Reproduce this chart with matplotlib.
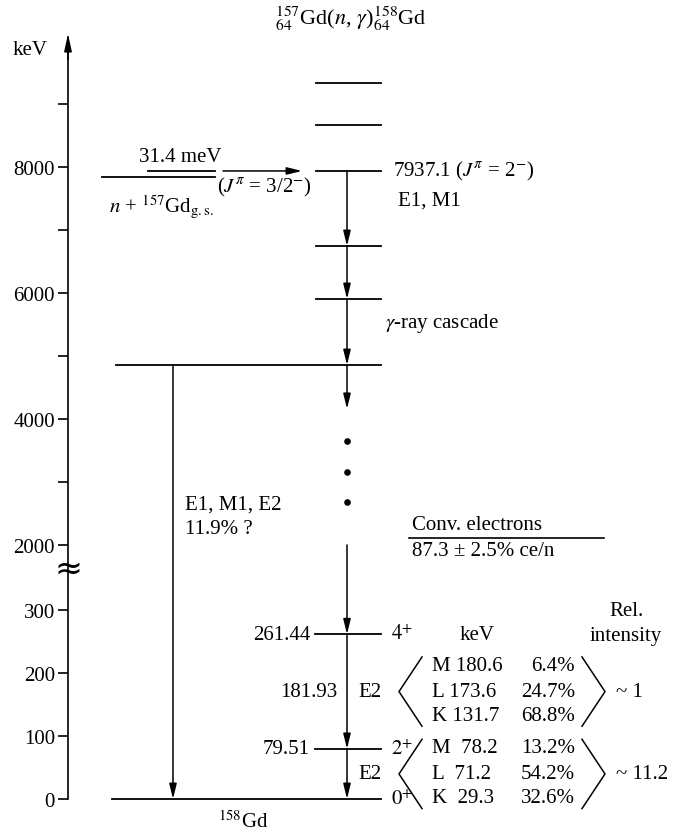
import numpy as np
import matplotlib
matplotlib.use("Agg")
import matplotlib.pyplot as plt

plt.rcParams['font.family'] = ['Liberation Serif', 'DejaVu Serif']
plt.rcParams['mathtext.fontset'] = 'stix'

# ---------------- data (keV) ----------------
upper_levels = [9333, 8667, 7937.1, 6746, 5905]          # capture region levels
break_level = 4857                                        # level with direct ground transition
low_levels = [261.44, 79.51, 0.0]
low_spins = ["$4^{+}$", "$2^{+}$", "$0^{+}$"]
capture_energy = 7937.1
neutron_level = 7840          # n + 157Gd g.s. (drawn just below capture state)
cascade_steps = [(7937.1, 6746), (6746, 5905), (5905, 4857), (4857, 4160)]
cascade_resume = 2000
cascade_dots = [3650, 3160, 2680]
transition_labels = ["181.93", ""]
major_ticks = [0, 100, 200, 300, 2000, 4000, 6000, 8000]
minor_ticks = [3000, 5000, 7000, 9000]
groups = [
    {"rows": [("M 180.6", "6.4%"), ("L 173.6", "24.7%"), ("K 131.7", "68.8%")], "rel": "~ 1"},
    {"rows": [("M  78.2", "13.2%"), ("L  71.2", "54.2%"), ("K  29.3", "32.6%")], "rel": "~ 11.2"},
]
direct_label = ["E1, M1, E2", "11.9% ?"]

# ---------------- broken energy scale ----------------
E_pts = np.array([-1000.0, 0.0, 350.0, 2000.0, 20000.0])
P_pts = np.array([-630.0, 0.0, 220.5, 254.0, 254.0 + 0.063 * 18000])

def fwd(e):
    return np.interp(np.asarray(e, float), E_pts, P_pts)

def inv(p):
    return np.interp(np.asarray(p, float), P_pts, E_pts)

W, H = 673, 837
fig = plt.figure(figsize=(W / 100, H / 100), dpi=100)
ax = fig.add_axes([0, 0, 1, 1])
ax.set_xlim(0, W)
ax.set_yscale('function', functions=(fwd, inv))
ax.set_ylim(float(inv(-37)), float(inv(800)))
ax.patch.set_visible(False)
for s in ['top', 'right', 'bottom']:
    ax.spines[s].set_visible(False)
ax.xaxis.set_visible(False)
ax.spines['left'].set_position(('data', 68))
top_E = float(inv(765))
ax.spines['left'].set_bounds(0, top_E - 50)
ax.spines['left'].set_linewidth(1.2)
ax.set_yticks(major_ticks)
ax.set_yticklabels([str(t) for t in major_ticks], fontsize=15)
ax.set_yticks(minor_ticks, minor=True)
ax.tick_params(axis='y', which='both', direction='out', length=7.5, width=1.2, pad=2)
ax.annotate('', xy=(68, top_E), xytext=(68, top_E - 400),
            arrowprops=dict(arrowstyle='-|>,head_length=1.0,head_width=0.22', lw=1.2,
                            color='k', shrinkA=0, shrinkB=0))

lay = fig.add_axes([0, 0, 1, 1], label='lay')
lay.set_xlim(0, W)
lay.set_ylim(H, 0)
lay.axis('off')

LW = 1.3
FS = 15

def arrow(x, e0, e1):
    ax.annotate('', xy=(x, e1), xytext=(x, e0),
                arrowprops=dict(arrowstyle='-|>,head_length=0.9,head_width=0.22', lw=1.1,
                                color='k', shrinkA=0, shrinkB=0))

# levels
for e in upper_levels:
    ax.plot([316, 381], [e, e], color='k', lw=LW)
ax.plot([116, 381], [break_level, break_level], color='k', lw=LW)
for e in low_levels[:-1]:
    ax.plot([315, 381], [e, e], color='k', lw=LW)
ax.plot([112, 381], [low_levels[-1]] * 2, color='k', lw=LW)

# neutron capture entry
ax.plot([102, 215], [neutron_level] * 2, color='k', lw=LW)
ax.plot([148, 215], [capture_energy] * 2, color='k', lw=LW)
ax.annotate('', xy=(302, capture_energy), xytext=(223, capture_energy),
            arrowprops=dict(arrowstyle='-|>,head_length=0.9,head_width=0.22', lw=1.1,
                            color='k', shrinkA=0, shrinkB=0))

# cascade
XC = 347
for e0, e1 in cascade_steps:
    arrow(XC, e0, e1)
ax.scatter([XC] * len(cascade_dots), cascade_dots, s=14, color='k', zorder=3)
arrow(XC, cascade_resume, low_levels[0])
arrow(XC, low_levels[0], low_levels[1])
arrow(XC, low_levels[1], low_levels[2])
# direct transition
arrow(173, break_level, low_levels[-1])

# labels attached to levels
ax.text(393, capture_energy, f"{capture_energy} ($J^{{\\pi}}$ = 2$^{{-}}$)", fontsize=FS, va='center')
for e, sp in zip(low_levels, low_spins):
    ax.text(391, e, sp, fontsize=FS, va='center')
for e in low_levels[:-1]:
    ax.text(310, e, f"{e:.2f}", fontsize=FS, va='center', ha='right')

# free text
lay.text(351, 19, r"${}^{157}_{64}$Gd($n$, $\gamma$)${}^{158}_{64}$Gd", fontsize=16, ha='center', va='center')
lay.text(13, 50, "keV", fontsize=FS, va='center')
lay.text(180, 157, "31.4 meV", fontsize=FS, ha='center', va='center')
lay.text(217, 187, r"($J^{\pi}$ = 3/2$^{-}$)", fontsize=FS, va='center')
lay.text(109, 207, r"$n$ + ${}^{157}$Gd$_{\mathrm{g.s.}}$", fontsize=FS, va='center')
lay.text(398, 201, "E1, M1", fontsize=FS, va='center')
lay.text(385, 323, r"$\gamma$-ray cascade", fontsize=FS, va='center')
lay.text(185, 505, direct_label[0], fontsize=FS, va='center')
lay.text(185, 530, direct_label[1], fontsize=FS, va='center')
lay.text(412, 526, "Conv. electrons", fontsize=FS, va='center')
lay.plot([409, 604], [539, 539], color='k', lw=1.2)
lay.text(412, 551, "87.3 ± 2.5% ce/n", fontsize=FS, va='center')
lay.text(477, 636, "keV", fontsize=FS, ha='center', va='center')
lay.text(626, 612, "Rel.", fontsize=FS, ha='center', va='center')
lay.text(626, 636, "intensity", fontsize=FS, ha='center', va='center')
lay.text(243, 822, "${}^{158}$Gd", fontsize=FS, ha='center', va='center')
lay.text(68, 569, "≈", fontsize=24, ha='center', va='center', family='DejaVu Sans')

# conversion electron groups
trans = [(low_levels[0], low_levels[1]), (low_levels[1], low_levels[2])]
for gi, (g, (ea, eb)) in enumerate(zip(groups, trans)):
    mid = (ea + eb) / 2
    ax.text(337, mid, transition_labels[gi], fontsize=FS, va='center', ha='right')
    ax.text(358, mid, "E2", fontsize=FS, va='center')
    half = 55
    ax.plot([422, 399, 422], [mid + half, mid, mid - half], color='k', lw=1.1)
    ax.plot([582, 605, 582], [mid + half, mid, mid - half], color='k', lw=1.1)
    offs = [42, 0, -38]
    for (lab, pct), o in zip(g["rows"], offs):
        ax.text(432, mid + o, lab, fontsize=FS, va='center')
        ax.text(575, mid + o, pct, fontsize=FS, va='center', ha='right')
    ax.text(616, mid, g["rel"], fontsize=FS, va='center')

fig.savefig("out.png", dpi=100)
